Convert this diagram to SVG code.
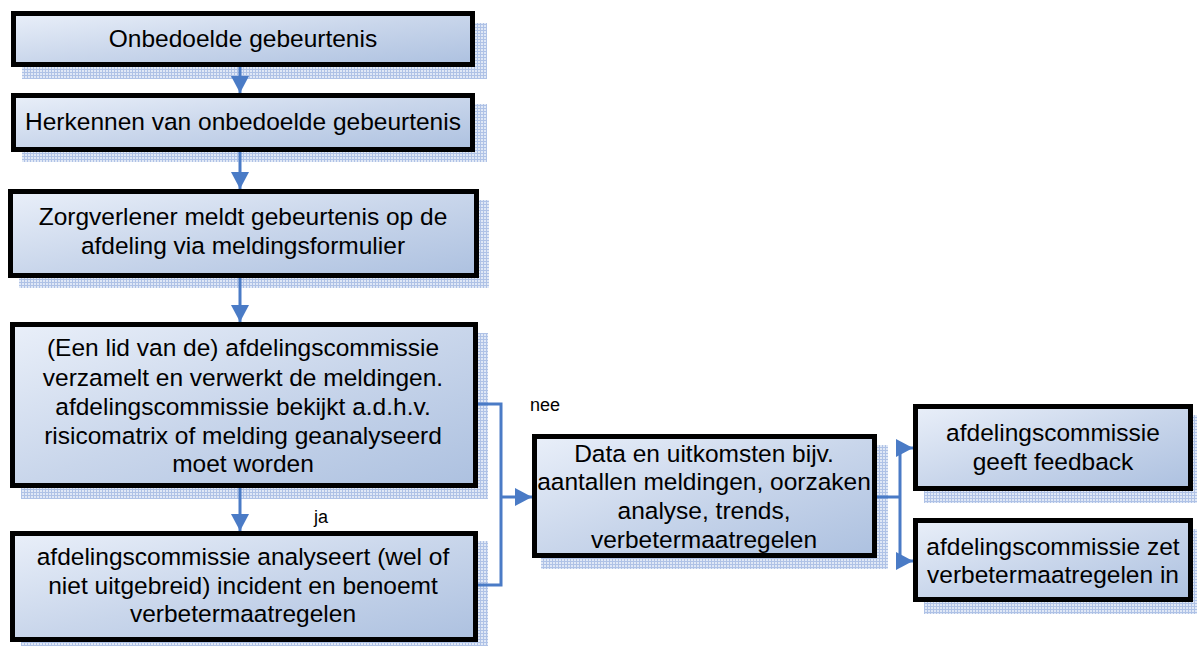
<svg xmlns="http://www.w3.org/2000/svg" width="1197" height="646" viewBox="0 0 1197 646">
<style>
.box{fill:url(#g);stroke:#000;stroke-width:5}
.sh{fill:url(#hatch)}
.t{font-family:"Liberation Sans",Arial,sans-serif;font-size:24.5px;fill:#000;text-anchor:middle}
.lbl{font-family:"Liberation Sans",Arial,sans-serif;font-size:18px;fill:#000}
.c{fill:none;stroke:#4a7bc6;stroke-width:3}
</style>
<defs>
<linearGradient id="g" x1="0" y1="0" x2="1" y2="1">
<stop offset="0" stop-color="#e9eff9"/>
<stop offset="0.5" stop-color="#c9d6eb"/>
<stop offset="1" stop-color="#adc1e0"/>
</linearGradient>
<pattern id="hatch" width="3" height="3" patternUnits="userSpaceOnUse">
<rect width="3" height="3" fill="#e0e8f6"/>
<rect width="3" height="1" fill="#afc2e6"/>
<rect width="1" height="3" fill="#afc2e6"/>
</pattern>
<marker id="ah" markerUnits="userSpaceOnUse" markerWidth="18" markerHeight="18" refX="17" refY="9" orient="auto">
<path d="M0,0 L17,9 L0,18 z" fill="#4a7bc6"/>
</marker>
</defs>

<g id="n1">
<rect class="sh" x="22" y="23" width="465" height="56"/>
<rect class="box" x="13.5" y="13.5" width="459" height="51"/>
<text class="t" x="243" y="47">Onbedoelde gebeurtenis</text>
</g>
<g id="n2">
<rect class="sh" x="22" y="104" width="465" height="58"/>
<rect class="box" x="13.5" y="95.5" width="459" height="54"/>
<text class="t" x="243" y="130">Herkennen van onbedoelde gebeurtenis</text>
</g>
<g id="n3">
<rect class="sh" x="19" y="200" width="470" height="88"/>
<rect class="box" x="10.5" y="191.5" width="466" height="84"/>
<text class="t" x="243" y="225">Zorgverlener meldt gebeurtenis op de</text>
<text class="t" x="243" y="254">afdeling via meldingsformulier</text>
</g>
<g id="n4">
<rect class="sh" x="21" y="333" width="467" height="166"/>
<rect class="box" x="12.5" y="324.5" width="463" height="161"/>
<text class="t" x="243" y="356">(Een lid van de) afdelingscommissie</text>
<text class="t" x="243" y="386">verzamelt en verwerkt de meldingen.</text>
<text class="t" x="243" y="415">afdelingscommissie bekijkt a.d.h.v.</text>
<text class="t" x="243" y="444">risicomatrix of melding geanalyseerd</text>
<text class="t" x="243" y="472">moet worden</text>
</g>
<g id="n5">
<rect class="sh" x="21" y="541" width="467" height="105"/>
<rect class="box" x="12.5" y="533.5" width="463" height="106"/>
<text class="t" x="243" y="565">afdelingscommissie analyseert (wel of</text>
<text class="t" x="243" y="594">niet uitgebreid) incident en benoemt</text>
<text class="t" x="243" y="622">verbetermaatregelen</text>
</g>
<g id="n6">
<rect class="sh" x="541" y="445" width="347" height="124"/>
<rect class="box" x="534.5" y="436.5" width="340" height="119"/>
<text class="t" x="704" y="462">Data en uitkomsten bijv.</text>
<text class="t" x="704" y="490">aantallen meldingen, oorzaken</text>
<text class="t" x="704" y="519">analyse, trends,</text>
<text class="t" x="704" y="548">verbetermaatregelen</text>
</g>
<g id="n7">
<rect class="sh" x="924" y="415" width="273" height="88"/>
<rect class="box" x="915.5" y="406.5" width="275" height="82"/>
<text class="t" x="1053" y="441">afdelingscommissie</text>
<text class="t" x="1053" y="470">geeft feedback</text>
</g>
<g id="n8">
<rect class="sh" x="924" y="529" width="273" height="85"/>
<rect class="box" x="915.5" y="520.5" width="275" height="79"/>
<text class="t" x="1053" y="555">afdelingscommissie zet</text>
<text class="t" x="1053" y="583">verbetermaatregelen in</text>
</g>

<g id="connectors">
<line class="c" x1="240" y1="67" x2="240" y2="93" marker-end="url(#ah)"/>
<line class="c" x1="240" y1="152" x2="240" y2="189" marker-end="url(#ah)"/>
<line class="c" x1="240" y1="278" x2="240" y2="322" marker-end="url(#ah)"/>
<line class="c" x1="240" y1="488" x2="240" y2="531" marker-end="url(#ah)"/>
<path class="c" d="M478,404 H501 V585 H478"/>
<line class="c" x1="501" y1="497" x2="532" y2="497" marker-end="url(#ah)"/>
<path class="c" d="M877,497 H900 M900,447 V561"/>
<line class="c" x1="898" y1="448" x2="913" y2="448" marker-end="url(#ah)"/>
<line class="c" x1="898" y1="561" x2="913" y2="561" marker-end="url(#ah)"/>
<text class="lbl" x="530" y="411">nee</text>
<text class="lbl" x="314" y="523">ja</text>
</g>
</svg>
